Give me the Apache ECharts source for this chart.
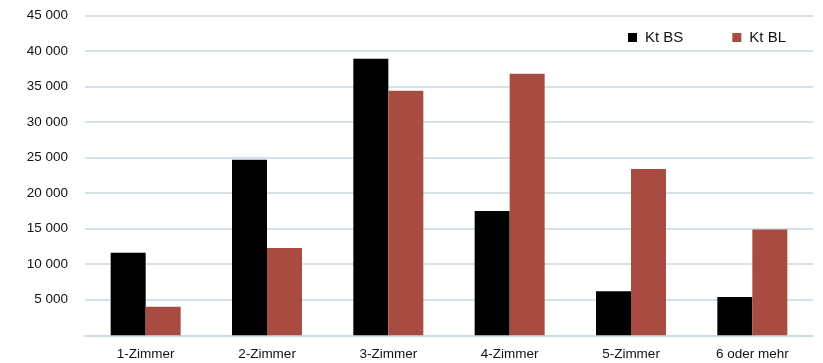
<!DOCTYPE html>
<html>
<head>
<meta charset="utf-8">
<style>
  html, body { margin: 0; padding: 0; background: #fff; }
  #chart { width: 823px; height: 363px; }
</style>
<script src="https://cdn.jsdelivr.net/npm/echarts@6/dist/echarts.min.js"></script>
</head>
<body>
<div id="chart"></div>
<script>
// Wohnungen nach Zimmerzahl, Basel-Stadt vs. Basel-Landschaft
const categories = ['1-Zimmer', '2-Zimmer', '3-Zimmer', '4-Zimmer', '5-Zimmer', '6 oder mehr'];
const seriesNames = ['Kt BS', 'Kt BL'];
const valuesBS = [11600, 24700, 38900, 17500, 6200, 5400];
const valuesBL = [4000, 12300, 34400, 36800, 23400, 14900];
const yTicks = { min: 0, max: 45000, interval: 5000 };

const fontFamily = '"Liberation Sans", Arial, Helvetica, sans-serif';
const formatThousands = v => v === 0 ? '' : String(v).replace(/\B(?=(\d{3})+(?!\d))/g, ' ');

const chart = echarts.init(document.getElementById('chart'), null, { renderer: 'canvas' });
chart.setOption({
  animation: false,
  backgroundColor: '#ffffff',
  grid: { left: 85, right: 10, top: 15.5, bottom: 27.7, containLabel: false },
  legend: {
    data: seriesNames,
    left: 623,
    top: 25,
    itemWidth: 9,
    itemHeight: 9,
    itemGap: 49,
    icon: 'rect',
    textStyle: { fontFamily, fontSize: 15, color: '#111', padding: [0, 0, 0, 3] }
  },
  xAxis: {
    type: 'category',
    data: categories,
    axisLine: { show: true, lineStyle: { color: '#c9d9e1', width: 1.5 } },
    axisTick: { show: false },
    axisLabel: { fontFamily, fontSize: 13.5, color: '#111', margin: 12 }
  },
  yAxis: {
    type: 'value',
    min: yTicks.min,
    max: yTicks.max,
    interval: yTicks.interval,
    axisLine: { show: false },
    axisTick: { show: false },
    splitLine: { show: true, lineStyle: { color: '#c9d9e1', width: 1.5 } },
    axisLabel: { fontFamily, fontSize: 13.5, color: '#111', margin: 17, formatter: formatThousands }
  },
  series: [
    {
      name: seriesNames[0],
      type: 'bar',
      data: valuesBS,
      barWidth: 35,
      barGap: '0%',
      itemStyle: { color: '#000000' }
    },
    {
      name: seriesNames[1],
      type: 'bar',
      data: valuesBL,
      barWidth: 35,
      barGap: '0%',
      itemStyle: { color: '#a84c41' }
    }
  ]
});
</script>
</body>
</html>
